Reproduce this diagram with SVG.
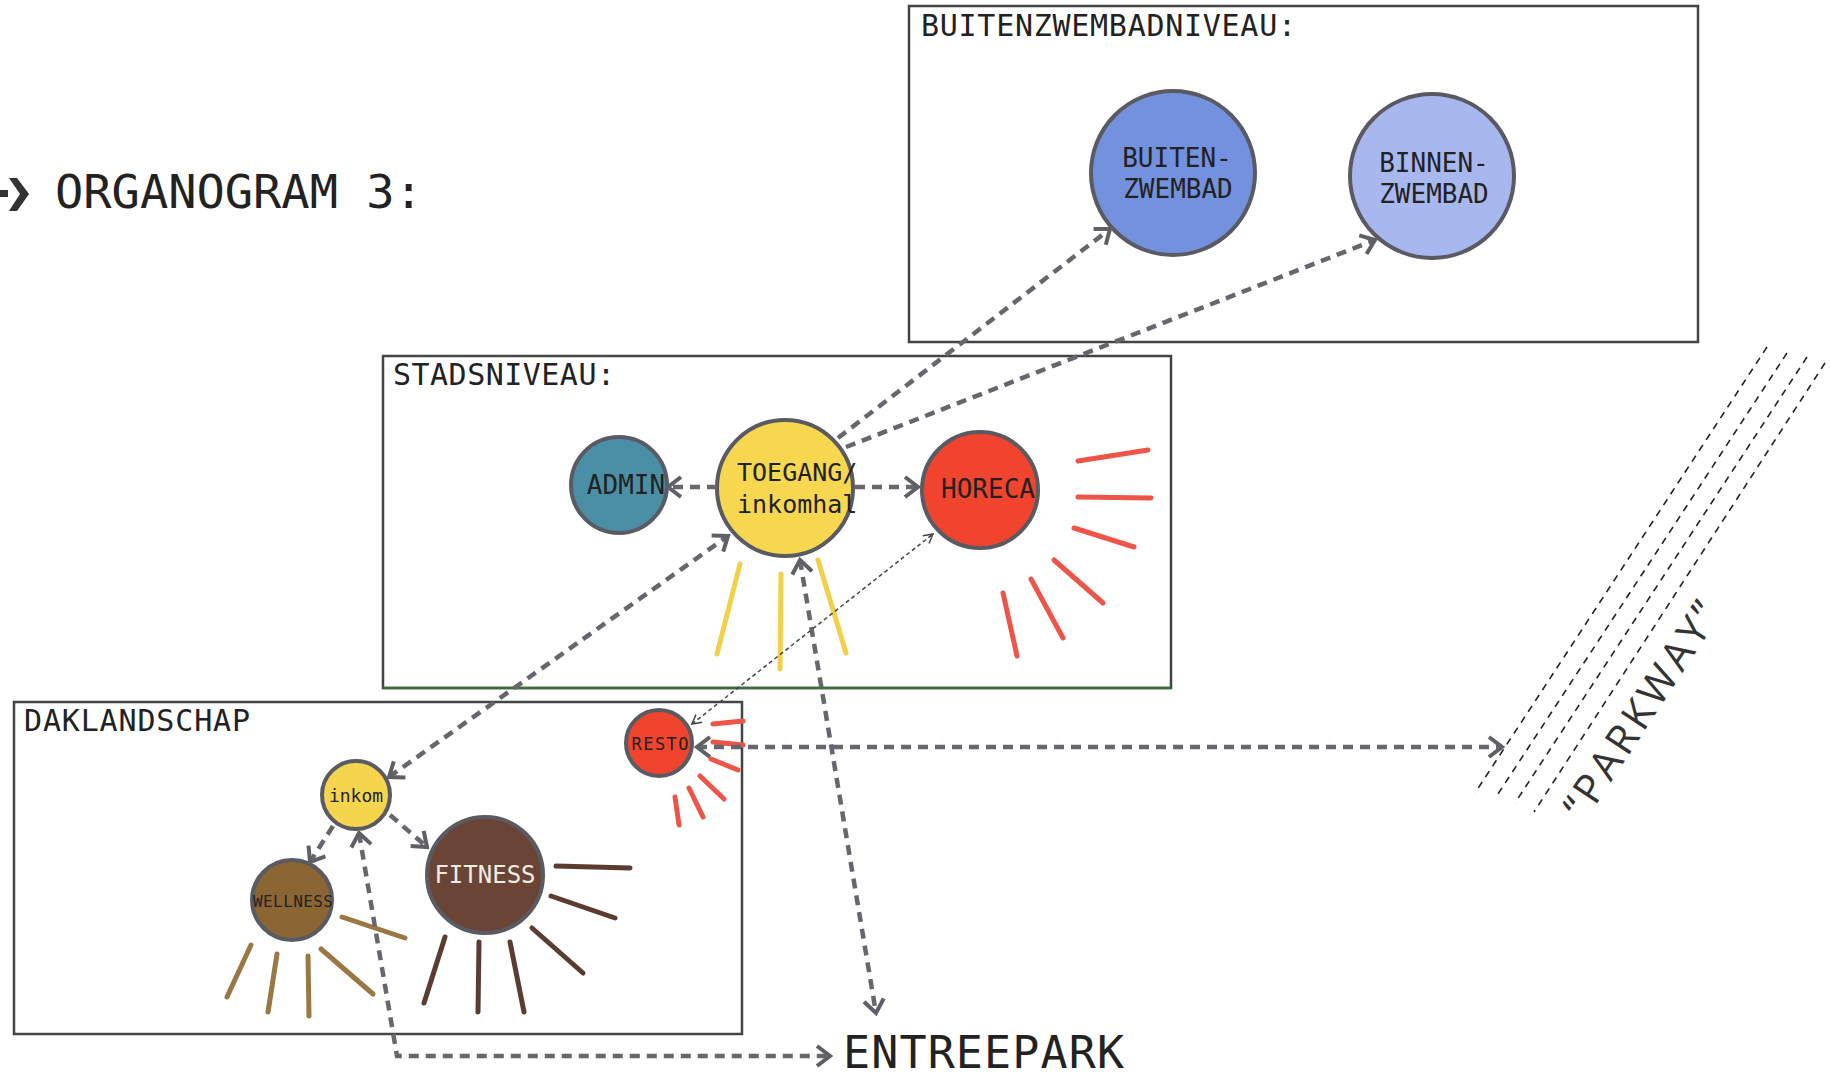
<svg xmlns="http://www.w3.org/2000/svg" width="1830" height="1079" viewBox="0 0 1830 1079">
<defs>
<style>
.box{fill:none;stroke:#444;stroke-width:2.5}
.lbl{font-family:"DejaVu Sans Mono","Liberation Mono",monospace;fill:#222}
.node{stroke:#5a5a62;stroke-width:4}
.nt{font-family:"DejaVu Sans Mono","Liberation Mono",monospace;fill:#222;text-anchor:middle}
.con{fill:none;stroke:#66666c;stroke-width:4.5;stroke-dasharray:10 7}
.thin{fill:none;stroke:#444;stroke-width:1.5;stroke-dasharray:4 3}
.ray{stroke-width:5;stroke-linecap:round}
.pk{fill:none;stroke:#222;stroke-width:1.6;stroke-dasharray:7 6}
</style>
<marker id="ah" viewBox="0 0 20 24" refX="17" refY="12" markerWidth="20" markerHeight="24" markerUnits="userSpaceOnUse" orient="auto-start-reverse">
<path d="M4,2 L17,12 L4,22" fill="none" stroke="#5f5f66" stroke-width="4"/>
</marker>
<marker id="sh" viewBox="0 0 12 12" refX="11" refY="6" markerWidth="12" markerHeight="12" markerUnits="userSpaceOnUse" orient="auto-start-reverse">
<path d="M2,1 L11,6 L2,11" fill="none" stroke="#444" stroke-width="1.5"/>
</marker>
</defs>
<rect width="1830" height="1079" fill="#fff"/>

<g id="title">
<polygon points="0,190 8,190 8,197 0,197" fill="#333"/>
<polygon points="9,178 17,178 29,194 17,211 9,211 20,194" fill="#333"/>
<text class="lbl" x="55" y="208" font-size="47">ORGANOGRAM 3:</text>
</g>

<g id="buitenzwembadniveau">
<rect class="box" x="909" y="6" width="789" height="336"/>
<text class="lbl" x="921" y="36" font-size="30" textLength="375">BUITENZWEMBADNIVEAU:</text>
</g>
<g id="stadsniveau">
<rect class="box" x="383" y="356" width="788" height="332"/>
<line x1="383" y1="688" x2="1171" y2="688" stroke="#3a6e3a" stroke-width="2.5"/>
<text class="lbl" x="393" y="385" font-size="30" textLength="222">STADSNIVEAU:</text>
</g>
<g id="daklandschap">
<rect class="box" x="14" y="702" width="728" height="332"/>
<text class="lbl" x="24" y="731" font-size="30" textLength="226">DAKLANDSCHAP</text>
</g>

<g id="rays">
<g stroke="#ee5548" class="ray">
<line class="ray" x1="1078" y1="461" x2="1148" y2="450"/>
<line class="ray" x1="1078" y1="497" x2="1151" y2="498"/>
<line class="ray" x1="1074" y1="528" x2="1134" y2="547"/>
<line class="ray" x1="1054" y1="560" x2="1103" y2="603"/>
<line class="ray" x1="1031" y1="579" x2="1063" y2="638"/>
<line class="ray" x1="1003" y1="593" x2="1017" y2="656"/>
<line class="ray" x1="713" y1="724" x2="743" y2="721"/>
<line class="ray" x1="713" y1="742" x2="743" y2="745"/>
<line class="ray" x1="711" y1="759" x2="738" y2="770"/>
<line class="ray" x1="700" y1="776" x2="724" y2="799"/>
<line class="ray" x1="689" y1="788" x2="703" y2="817"/>
<line class="ray" x1="675" y1="797" x2="679" y2="825"/>
</g>
<g stroke="#f3d04a">
<line class="ray" x1="740" y1="564" x2="717" y2="654" stroke-width="4"/>
<line class="ray" x1="781" y1="574" x2="780" y2="669" stroke-width="4"/>
<line class="ray" x1="818" y1="560" x2="846" y2="653" stroke-width="4"/>
</g>
<g stroke="#9b7744">
<line class="ray" x1="251" y1="945" x2="227" y2="997"/>
<line class="ray" x1="277" y1="954" x2="268" y2="1012"/>
<line class="ray" x1="308" y1="956" x2="309" y2="1016"/>
<line class="ray" x1="321" y1="949" x2="373" y2="994"/>
<line class="ray" x1="342" y1="917" x2="405" y2="938"/>
</g>
<g stroke="#5a3d30">
<line class="ray" x1="556" y1="866" x2="630" y2="868"/>
<line class="ray" x1="551" y1="896" x2="615" y2="918"/>
<line class="ray" x1="532" y1="928" x2="583" y2="973"/>
<line class="ray" x1="510" y1="942" x2="524" y2="1012"/>
<line class="ray" x1="479" y1="942" x2="478" y2="1012"/>
<line class="ray" x1="445" y1="937" x2="424" y2="1003"/>
</g>
</g>

<g id="parkway">
<line class="pk" x1="1767" y1="347" x2="1475" y2="793"/>
<line class="pk" x1="1787" y1="353" x2="1496" y2="797"/>
<line class="pk" x1="1807" y1="357" x2="1515" y2="803"/>
<line class="pk" x1="1825" y1="363" x2="1534" y2="812"/>
<text x="1585" y="822" transform="rotate(-56.8 1585 822)" font-family="'Open Sans','Noto Sans',sans-serif" font-size="41" fill="#333" letter-spacing="1" textLength="250">“PARKWAY”</text>
</g>

<g id="node-buitenzwembad">
<circle class="node" cx="1173" cy="173" r="82" fill="#7391dd"/>
<text class="nt" x="1177" y="167" font-size="26">BUITEN-</text>
<text class="nt" x="1178" y="198" font-size="26">ZWEMBAD</text>
</g>
<g id="node-binnenzwembad">
<circle class="node" cx="1432" cy="176" r="82" fill="#a8b8ef"/>
<text class="nt" x="1434" y="172" font-size="26">BINNEN-</text>
<text class="nt" x="1434" y="203" font-size="26">ZWEMBAD</text>
</g>
<g id="node-admin">
<circle class="node" cx="619" cy="485" r="48" fill="#4b8fa6"/>
<text class="nt" x="626" y="494" font-size="26">ADMIN</text>
</g>
<g id="node-toegang">
<circle class="node" cx="785" cy="488" r="68" fill="#f6d74f"/>
<text class="lbl" x="737" y="481" font-size="25">TOEGANG/</text>
<text class="lbl" x="737" y="513" font-size="25">inkomhal</text>
</g>
<g id="node-horeca">
<circle class="node" cx="980" cy="490" r="58" fill="#f0442f"/>
<text class="nt" x="988" y="498" font-size="26">HORECA</text>
</g>
<g id="node-inkom">
<circle class="node" cx="356" cy="795" r="34" fill="#f5d54e"/>
<text class="nt" x="356" y="802" font-size="18">inkom</text>
</g>
<g id="node-wellness">
<circle class="node" cx="292" cy="900" r="40" fill="#8b6634"/>
<text class="nt" x="293" y="907" font-size="16" textLength="80">WELLNESS</text>
</g>
<g id="node-fitness">
<circle class="node" cx="485" cy="875" r="58" fill="#6a4535"/>
<text class="nt" x="485" y="883" font-size="24" style="fill:#f3ece4">FITNESS</text>
</g>
<g id="node-resto">
<circle class="node" cx="659" cy="743" r="33" fill="#f0442f"/>
<text class="nt" x="660" y="750" font-size="17" textLength="57">RESTO</text>
</g>
<g id="node-entreepark">
<text class="lbl" x="843" y="1068" font-size="45" textLength="281" fill="#333">ENTREEPARK</text>
</g>

<g id="connectors">
<path class="con" d="M717,487 L668,487" marker-end="url(#ah)"/>
<path class="con" d="M855,487 L918,487" marker-end="url(#ah)"/>
<path class="con" d="M838,438 L1110,229" marker-end="url(#ah)"/>
<path class="con" d="M846,447 L1375,240" marker-end="url(#ah)"/>
<path class="con" d="M389,777 L728,536" marker-start="url(#ah)" marker-end="url(#ah)"/>
<path class="con" d="M800,560 L876,1013" marker-start="url(#ah)" marker-end="url(#ah)"/>
<path class="thin" d="M692,724 L933,534" marker-start="url(#sh)" marker-end="url(#sh)"/>
<path class="con" d="M697,747 L1502,747" stroke-width="6" stroke-dasharray="9 7" marker-start="url(#ah)" marker-end="url(#ah)"/>
<path class="con" d="M333,826 L310,862" marker-end="url(#ah)"/>
<path class="con" d="M390,815 L427,847" marker-end="url(#ah)"/>
<path class="con" d="M359,833 L397,1056 L830,1056" stroke-dasharray="9 7" marker-start="url(#ah)" marker-end="url(#ah)"/>
</g>
</svg>
